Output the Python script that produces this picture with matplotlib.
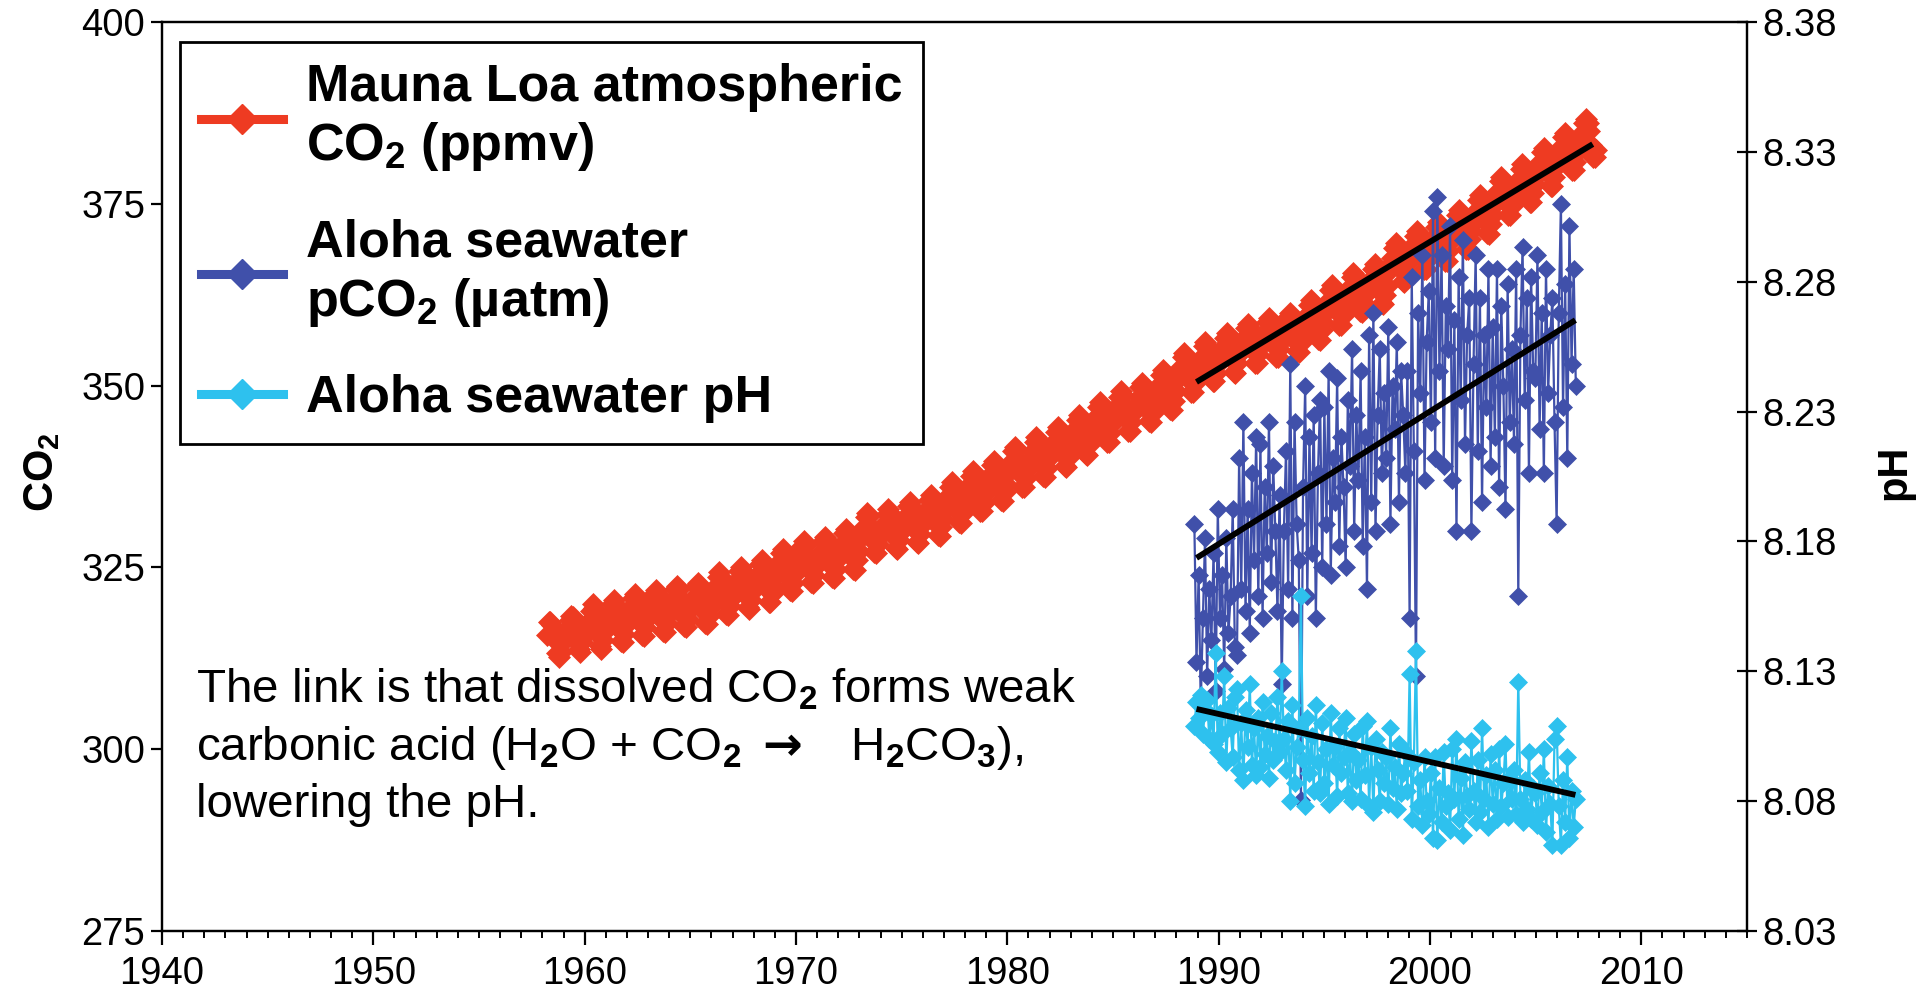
import numpy as np
import matplotlib
matplotlib.use("Agg")
import matplotlib.pyplot as plt
from matplotlib.lines import Line2D
from matplotlib.ticker import MultipleLocator, FormatStrFormatter

plt.rcParams['font.family'] = ['Liberation Sans', 'DejaVu Sans']
plt.rcParams['mathtext.fontset'] = 'custom'
plt.rcParams['mathtext.rm'] = 'Liberation Sans'
plt.rcParams['mathtext.bf'] = 'Liberation Sans:bold'
plt.rcParams['mathtext.it'] = 'Liberation Sans:italic'
plt.rcParams['mathtext.sf'] = 'DejaVu Sans:bold'

# ---------------- data ----------------
# Mauna Loa monthly CO2 (ppmv), March 1958 ... November 2007
ml_start_year = 1958 + 2.5 / 12
co2_ml = [
    315.7, 317.5, 317.5, 317.1, 315.9, 314.9, 313.2, 312.7, 313.3, 314.7,
    315.6, 316.4, 316.7, 317.7, 318.3, 318.2, 316.5, 314.8, 313.8, 313.3, 314.8, 315.6,
    316.4, 316.9, 317.6, 319.0, 320.0, 319.4, 318.0, 315.9, 314.2, 313.8, 315.0, 316.2,
    317.1, 317.8, 318.7, 320.0, 320.5, 320.0, 318.6, 316.5, 314.9, 314.8, 315.9, 317.1,
    317.9, 318.7, 319.5, 320.8, 321.4, 320.8, 319.4, 317.4, 315.7, 315.6, 316.8, 317.9,
    318.4, 319.2, 320.1, 321.3, 321.9, 321.4, 319.9, 317.9, 316.3, 316.1, 317.3, 318.5,
    319.1, 319.8, 320.7, 322.0, 322.5, 322.0, 320.6, 318.5, 316.9, 316.8, 317.9, 319.1,
    319.5, 320.2, 321.1, 322.4, 322.9, 322.4, 321.0, 318.9, 317.3, 317.2, 318.3, 319.5,
    320.8, 321.6, 322.4, 323.7, 324.3, 323.7, 322.3, 320.3, 318.6, 318.5, 319.7, 320.8,
    321.6, 322.4, 323.3, 324.5, 325.1, 324.6, 323.1, 321.1, 319.5, 319.3, 320.5, 321.7,
    322.5, 323.3, 324.1, 325.4, 326.0, 325.4, 324.0, 322.0, 320.3, 320.2, 321.4, 322.5,
    324.1, 324.8, 325.7, 327.0, 327.5, 327.0, 325.6, 323.5, 321.9, 321.8, 322.9, 324.1,
    325.1, 325.9, 326.8, 328.0, 328.6, 328.1, 326.6, 324.6, 323.0, 322.8, 324.0, 325.2,
    325.5, 326.3, 327.2, 328.6, 329.2, 328.7, 327.3, 325.3, 323.7, 323.6, 324.8, 326.0,
    326.7, 327.5, 328.4, 329.7, 330.3, 329.8, 328.4, 326.4, 324.8, 324.7, 326.0, 327.2,
    328.9, 329.7, 330.6, 331.9, 332.5, 332.0, 330.6, 328.6, 327.1, 327.0, 328.2, 329.4,
    329.4, 330.2, 331.1, 332.4, 333.0, 332.5, 331.1, 329.2, 327.6, 327.5, 328.7, 329.9,
    330.3, 331.1, 332.0, 333.4, 334.0, 333.5, 332.1, 330.1, 328.5, 328.4, 329.6, 330.8,
    331.2, 332.0, 333.0, 334.3, 334.9, 334.4, 333.0, 331.0, 329.4, 329.3, 330.5, 331.7,
    333.0, 333.9, 334.8, 336.1, 336.7, 336.2, 334.8, 332.8, 331.2, 331.1, 332.3, 333.5,
    334.6, 335.4, 336.3, 337.6, 338.3, 337.8, 336.4, 334.4, 332.8, 332.7, 333.9, 335.1,
    336.0, 336.9, 337.8, 339.1, 339.7, 339.2, 337.8, 335.8, 334.2, 334.1, 335.3, 336.5,
    338.0, 338.8, 339.7, 341.0, 341.6, 341.1, 339.7, 337.7, 336.1, 336.0, 337.3, 338.5,
    339.2, 340.0, 341.0, 342.3, 342.9, 342.5, 341.1, 339.1, 337.6, 337.5, 338.7, 340.0,
    340.5, 341.4, 342.3, 343.6, 344.3, 343.8, 342.4, 340.5, 338.9, 338.8, 340.1, 341.3,
    342.2, 343.1, 344.0, 345.3, 346.0, 345.5, 344.1, 342.2, 340.6, 340.5, 341.8, 343.0,
    343.9, 344.8, 345.7, 347.0, 347.7, 347.2, 345.8, 343.9, 342.3, 342.2, 343.5, 344.7,
    345.4, 346.3, 347.2, 348.5, 349.2, 348.7, 347.3, 345.4, 343.8, 343.7, 345.0, 346.2,
    346.7, 347.5, 348.5, 349.8, 350.4, 350.0, 348.6, 346.6, 345.1, 345.0, 346.2, 347.5,
    348.4, 349.2, 350.2, 351.5, 352.1, 351.7, 350.3, 348.3, 346.8, 346.7, 347.9, 349.2,
    350.8, 351.6, 352.5, 353.9, 354.5, 354.0, 352.7, 350.7, 349.1, 349.1, 350.3, 351.5,
    352.3, 353.1, 354.0, 355.4, 356.0, 355.5, 354.2, 352.2, 350.6, 350.6, 351.8, 353.0,
    353.5, 354.4, 355.3, 356.6, 357.3, 356.8, 355.4, 353.5, 351.9, 351.8, 353.1, 354.3,
    354.8, 355.6, 356.5, 357.9, 358.5, 358.0, 356.7, 354.7, 353.1, 353.1, 354.3, 355.5,
    355.6, 356.4, 357.4, 358.7, 359.3, 358.9, 357.5, 355.5, 354.0, 353.9, 355.1, 356.4,
    356.3, 357.1, 358.1, 359.4, 360.0, 359.6, 358.2, 356.2, 354.7, 354.6, 355.8, 357.1,
    358.0, 358.9, 359.8, 361.1, 361.8, 361.3, 359.9, 358.0, 356.4, 356.3, 357.6, 358.8,
    360.0, 360.9, 361.8, 363.1, 363.8, 363.3, 361.9, 360.0, 358.4, 358.3, 359.6, 360.8,
    361.8, 362.6, 363.6, 364.9, 365.5, 365.1, 363.7, 361.7, 360.2, 360.1, 361.3, 362.6,
    362.9, 363.8, 364.7, 366.0, 366.7, 366.2, 364.8, 362.9, 361.3, 361.2, 362.5, 363.7,
    365.7, 366.6, 367.6, 368.9, 369.6, 369.2, 367.8, 365.9, 364.4, 364.3, 365.6, 366.9,
    367.4, 368.3, 369.3, 370.6, 371.3, 370.9, 369.5, 367.6, 366.1, 366.0, 367.3, 368.6,
    368.6, 369.5, 370.4, 371.8, 372.5, 372.0, 370.7, 368.8, 367.2, 367.2, 368.5, 369.7,
    370.2, 371.1, 372.0, 373.4, 374.1, 373.6, 372.3, 370.4, 368.8, 368.8, 370.1, 371.3,
    372.3, 373.2, 374.2, 375.5, 376.2, 375.8, 374.4, 372.5, 371.0, 370.9, 372.2, 373.5,
    374.9, 375.7, 376.7, 378.1, 378.7, 378.3, 377.0, 375.0, 373.5, 373.5, 374.7, 376.0,
    376.6, 377.5, 378.4, 379.8, 380.5, 380.0, 378.7, 376.8, 375.2, 375.2, 376.5, 377.7,
    378.9, 379.7, 380.7, 382.1, 382.7, 382.3, 381.0, 379.0, 377.5, 377.5, 378.7, 380.0,
    381.0, 381.8, 382.8, 384.2, 384.8, 384.4, 383.1, 381.1, 379.6, 379.6, 380.8, 382.1,
    382.9, 383.8, 384.7, 386.1, 386.6, 386.1, 385.0, 383.1, 381.5, 381.5, 382.4,
]

# Station ALOHA cruises, October 1988 ... late 2006
hot_first_year = 1988.85
hot_last_year = 2006.9
pco2_hot = [
    331, 312, 324, 306, 318, 329, 310, 322, 315, 327,
    308, 333, 318, 324, 311, 329, 316, 321, 333, 314,
    313, 340, 322, 345, 319, 333, 316, 338, 326, 343,
    321, 342, 318, 336, 327, 345, 323, 339, 330, 319,
    335, 309, 330, 341, 322, 353, 318, 345, 331, 326,
    293, 336, 350, 321, 343, 327, 346, 318, 338, 348,
    325, 347, 331, 352, 324, 340, 334, 351, 328, 343,
    336, 325, 348, 339, 355, 330, 346, 337, 352, 328,
    343, 322, 357, 334, 360, 330, 346, 355, 338, 349,
    340, 358, 331, 350, 344, 356, 334, 352, 346, 338,
    352, 318, 365, 341, 310, 360, 349, 368, 337, 356,
    363, 345, 374, 340, 376, 352, 368, 339, 361, 355,
    372, 337, 359, 330, 365, 348, 370, 342, 357, 362,
    330, 353, 368, 341, 362, 334, 357, 347, 366, 339,
    358, 343, 366, 336, 361, 350, 333, 364, 345, 355,
    342, 366, 321, 357, 369, 348, 362, 338, 365, 352,
    351, 368, 344, 360, 338, 366, 349, 357, 362, 345,
    331, 360, 375, 347, 364, 340, 372, 353, 366, 350,
]
ph_hot = [
    8.109, 8.118, 8.112, 8.121, 8.106, 8.115, 8.119, 8.104, 8.113, 8.102,
    8.137, 8.099, 8.114, 8.106, 8.128, 8.095, 8.116, 8.108, 8.097, 8.120,
    8.123, 8.092, 8.110, 8.088, 8.115, 8.101, 8.125, 8.094, 8.108, 8.090,
    8.112, 8.093, 8.118, 8.098, 8.105, 8.089, 8.114, 8.096, 8.103, 8.120,
    8.099, 8.130, 8.104, 8.092, 8.111, 8.080, 8.117, 8.087, 8.101, 8.108,
    8.159, 8.096, 8.078, 8.112, 8.091, 8.105, 8.084, 8.117, 8.095, 8.083,
    8.110, 8.087, 8.100, 8.079, 8.114, 8.094, 8.101, 8.082, 8.108, 8.091,
    8.097, 8.112, 8.083, 8.099, 8.080, 8.106, 8.088, 8.096, 8.081, 8.109,
    8.090, 8.111, 8.078, 8.101, 8.076, 8.104, 8.092, 8.080, 8.099, 8.087,
    8.097, 8.079, 8.108, 8.085, 8.093, 8.077, 8.102, 8.083, 8.091, 8.099,
    8.084, 8.129, 8.073, 8.095, 8.138, 8.078, 8.088, 8.071, 8.097, 8.080,
    8.075, 8.091, 8.066, 8.097, 8.065, 8.085, 8.072, 8.099, 8.078, 8.083,
    8.069, 8.100, 8.081, 8.104, 8.073, 8.089, 8.067, 8.095, 8.082, 8.077,
    8.103, 8.084, 8.072, 8.096, 8.076, 8.108, 8.081, 8.090, 8.070, 8.098,
    8.079, 8.092, 8.073, 8.100, 8.078, 8.087, 8.102, 8.074, 8.089, 8.081,
    8.092, 8.075, 8.126, 8.081, 8.072, 8.088, 8.077, 8.099, 8.073, 8.085,
    8.083, 8.071, 8.091, 8.076, 8.100, 8.068, 8.086, 8.079, 8.063, 8.104,
    8.109, 8.078, 8.063, 8.088, 8.072, 8.097, 8.066, 8.084, 8.070, 8.081,
]

# linear trend lines (end points)
trend_ml_years = [1988.95, 2007.7]
trend_ml_co2 = [350.5, 383.2]
trend_hot_years = [1988.95, 2006.88]
trend_pco2 = [326.3, 359.0]
trend_ph = [8.1155, 8.0824]

legend_labels = ['Mauna Loa atmospheric\nCO$_\\mathbf{2}$ (ppmv)',
                 'Aloha seawater\npCO$_\\mathbf{2}$ (\u00b5atm)',
                 'Aloha seawater pH']
co2_ticks = [275, 300, 325, 350, 375, 400]
ph_ticks = [8.03, 8.08, 8.13, 8.18, 8.23, 8.28, 8.33, 8.38]
year_ticks = [1940, 1950, 1960, 1970, 1980, 1990, 2000, 2010]

RED = '#EE3B22'
BLUE = '#4050AA'
CYAN = '#2EC1EE'

t_ml = ml_start_year + np.arange(len(co2_ml)) / 12.0
t_hot = np.linspace(hot_first_year, hot_last_year, len(pco2_hot))

# ---------------- figure ----------------
W, H = 1927, 990
fig = plt.figure(figsize=(W / 100, H / 100), dpi=100)
L, R, T, B = 162, 1747, 22, 931
ax = fig.add_axes([L / W, 1 - B / H, (R - L) / W, (B - T) / H])
ax2 = ax.twinx()

ax.plot(t_ml, co2_ml, color=RED, lw=1.5, marker='D', ms=11, mec=RED, mew=0.5, zorder=2)
ax.plot(t_hot, pco2_hot, color=BLUE, lw=1.6, marker='D', ms=9.5, mec=BLUE, mew=0.5, zorder=3)
ax.plot(trend_ml_years, trend_ml_co2, color='black', lw=4.2, zorder=5, solid_capstyle='butt')
ax.plot(trend_hot_years, trend_pco2, color='black', lw=4.2, zorder=5, solid_capstyle='butt')
ax2.plot(t_hot, ph_hot, color=CYAN, lw=1.6, marker='D', ms=9.5, mec=CYAN, mew=0.5, zorder=3)
ax2.plot(trend_hot_years, trend_ph, color='black', lw=4.2, zorder=5, solid_capstyle='butt')

ax.set_xlim(1940, 2015)
ax.set_ylim(275, 400)
ax2.set_ylim(8.03, 8.38)
ax.set_xticks(year_ticks)
ax.xaxis.set_minor_locator(MultipleLocator(1))
ax.set_yticks(co2_ticks)
ax2.set_yticks(ph_ticks)
ax2.yaxis.set_major_formatter(FormatStrFormatter('%.2f'))

for a in (ax, ax2):
    for s in a.spines.values():
        s.set_linewidth(1.6)

ax.tick_params(axis='x', which='major', direction='out', length=10, width=1.6,
               labelsize=27.5, pad=8)
ax.tick_params(axis='x', which='minor', direction='out', length=5, width=1.4)
ax.tick_params(axis='y', which='major', direction='out', length=8, width=1.6,
               labelsize=27.5, pad=4)
ax2.tick_params(axis='y', which='major', direction='inout', length=14, width=1.6,
                labelsize=27.5, pad=4)

ax.set_ylabel('CO$_\\mathbf{2}$', fontsize=30, fontweight='bold')
ax.yaxis.set_label_coords(-0.063, 0.505)
ax2.set_ylabel('pH', fontsize=30, fontweight='bold', rotation=90)
ax2.yaxis.set_label_coords(1.08, 0.505)

handles = [Line2D([], [], color=c, lw=6.5, marker='D', ms=15, mec=c) for c in (RED, BLUE, CYAN)]
leg = ax2.legend(handles, legend_labels, loc='upper left',
                 bbox_to_anchor=(180 / W, 1 - 42 / H), bbox_transform=fig.transFigure,
                 prop={'family': 'Liberation Sans', 'weight': 'bold', 'size': 37.5},
                 frameon=True, fancybox=False, edgecolor='black', framealpha=1,
                 borderpad=0.4, handlelength=1.57, handletextpad=0.45,
                 labelspacing=0.88, borderaxespad=0)
leg.get_frame().set_linewidth(2)
leg.set_zorder(10)

note_lines = ['The link is that dissolved CO$_\\mathbf{2}$ forms weak',
              'carbonic acid (H$_\\mathbf{2}$O + CO$_\\mathbf{2}$ $\\mathsf{\\rightarrow}$   H$_\\mathbf{2}$CO$_\\mathbf{3}$),',
              'lowering the pH.']
for i, txt in enumerate(note_lines):
    fig.text(196 / W, 1 - (703 + 57 * i) / H, txt, fontsize=34.2, ha='left', va='baseline',
             family='Liberation Sans')

fig.savefig('out.png', dpi=100)
